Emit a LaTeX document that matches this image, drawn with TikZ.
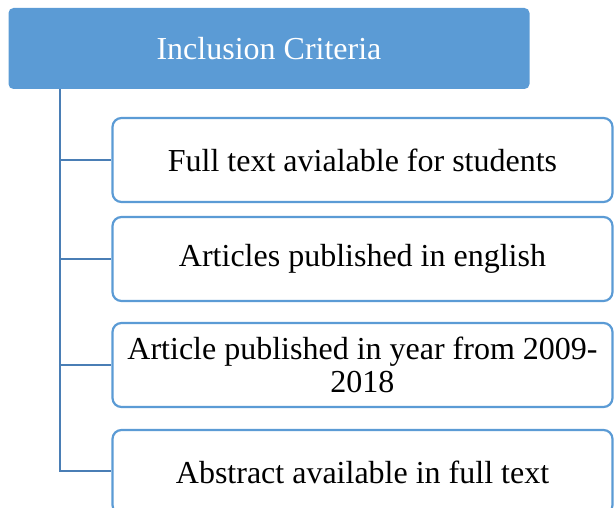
\documentclass[tikz,border=0pt]{standalone}
\usepackage{fontspec}
\setmainfont{Liberation Serif}
\definecolor{accent}{HTML}{5B9BD5}
\definecolor{linkline}{HTML}{4A7EB5}
\begin{document}
\begin{tikzpicture}[x=1pt,y=1pt,
  headbox/.style={fill=accent, rounded corners=5pt, minimum width=521pt,
    minimum height=81pt, inner sep=0pt, text=white, font=\fontsize{32}{34}\selectfont},
  itembox/.style={draw=accent, line width=2.2pt, fill=white, rounded corners=9pt,
    minimum width=500pt, minimum height=84pt, inner sep=0pt, align=center,
    font=\fontsize{32}{33.5}\selectfont},
  link/.style={draw=linkline, line width=2.6pt}]
  \useasboundingbox (0,0) rectangle (614,-508);
  \node[headbox] (head) at (269,-48.5) {Inclusion Criteria};
  \node[itembox] (i1) at (362.5,-160) {Full text avialable for students};
  \node[itembox] (i2) at (362.5,-259) {Articles published in english};
  \node[itembox] (i3) at (362.5,-365) {Article published in year from 2009-\\2018};
  \node[itembox] (i4) at (362.5,-472) {Abstract available in full text};
  \coordinate (trunk) at (60,0);
  \draw[link] (head.south -| trunk) -- (0,-471 -| trunk) coordinate (foot) -- (foot -| i4.west);
  \foreach \k in {1,2,3}
    \draw[link] (i\k.west -| trunk) -- (i\k.west);
\end{tikzpicture}
\end{document}
